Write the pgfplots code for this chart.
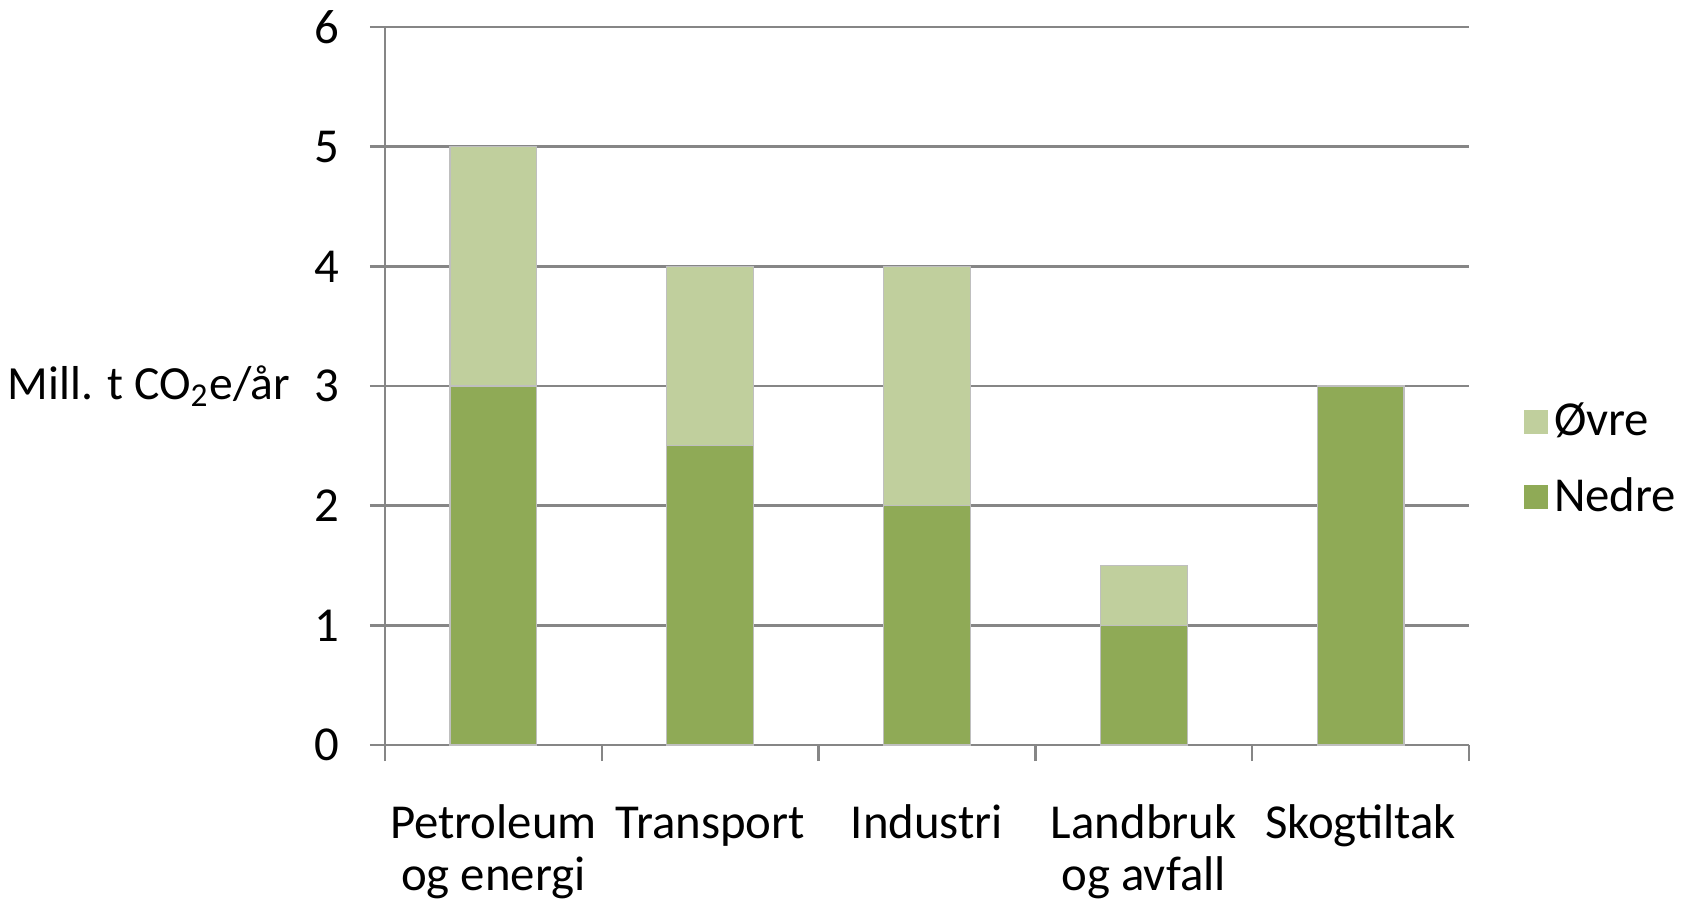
\documentclass[border=0pt]{standalone}
\usepackage{fontspec}
\setmainfont{Carlito}
\usepackage{pgfplots}
\pgfplotsset{compat=1.18}
\definecolor{darkg}{RGB}{143,170,86}
\definecolor{lightg}{RGB}{192,207,157}
\definecolor{gridc}{RGB}{134,134,134}
\begin{document}
\begin{tikzpicture}
\begin{axis}[
  scale only axis,
  width=271pt, height=179.5pt,
  xmin=-0.5, xmax=4.5, ymin=0, ymax=6,
  ybar stacked, bar width=0.4,
  font=\fontsize{12.2}{12.8}\selectfont,
  /pgf/number format/assume math mode=true,
  axis x line*=bottom, axis y line*=left,
  axis line style={gridc, line width=0.6pt},
  xtick={0,1,2,3,4},
  xticklabels={\strut Petroleum\\og energi, \strut Transport, \strut Industri, \strut Landbruk\\og avfall, \strut Skogtiltak},
  xticklabel style={align=center, anchor=north, yshift=-7.2pt},
  minor xtick={-0.5,0.5,1.5,2.5,3.5,4.5},
  major x tick style={draw=none},
  minor x tick style={gridc, line width=0.6pt},
  minor tick length=4pt,
  ytick={0,1,2,3,4,5,6},
  ytick style={gridc, line width=0.6pt},
  major tick length=3.8pt,
  tick align=outside,
  yticklabel style={anchor=east, xshift=-4pt},
  ymajorgrids, major grid style={gridc, line width=0.6pt},
  ylabel={Mill. t CO\textsubscript{2}e/år},
  ylabel style={rotate=-90, at={(axis description cs:0,0.5)}, anchor=east, inner sep=0pt, xshift=-23.5pt, font=\fontsize{11.9}{13}\selectfont},
  legend style={draw=none, fill=none, at={(axis description cs:1.050,0.397)}, anchor=west,
    inner sep=0pt, row sep=6pt, font=\fontsize{12.2}{13}\selectfont,
    nodes={inner sep=1.5pt}},
  legend cell align=left,
  reverse legend,
  legend image code/.code={\fill[#1,draw=none] (-1.5pt,-3pt) rectangle (4.5pt,3pt);},
]
\addplot[fill=darkg, draw=black!25, line width=0.3pt] coordinates {(0,3) (1,2.5) (2,2) (3,1) (4,3)};
\addplot[fill=lightg, draw=black!25, line width=0.3pt] coordinates {(0,2) (1,1.5) (2,2) (3,0.5) (4,0)};
\legend{Nedre, Øvre}
\end{axis}
\pgfresetboundingbox
\useasboundingbox (-96.25pt,-39pt) rectangle (326.25pt,186.25pt);
\end{tikzpicture}
\end{document}
